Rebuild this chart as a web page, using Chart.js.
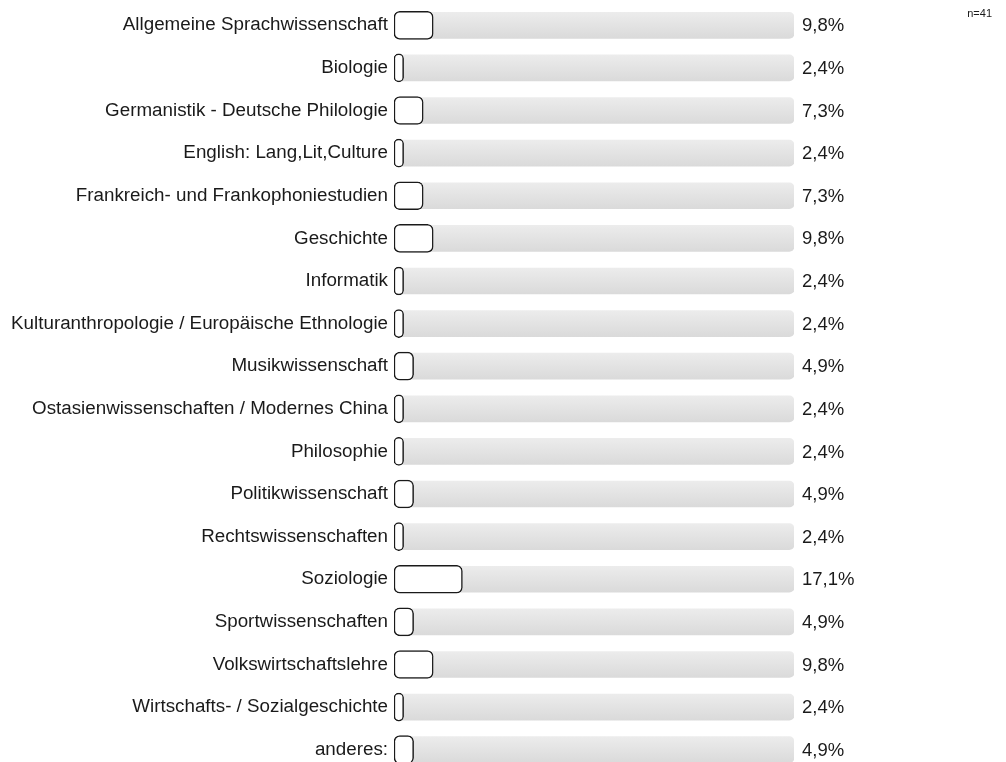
<!DOCTYPE html>
<html>
<head>
<meta charset="utf-8">
<script src="https://cdn.jsdelivr.net/npm/chart.js@4.4.0/dist/chart.umd.min.js"></script>
<style>
    html, body { margin: 0; padding: 0; background: #fff; overflow: hidden; }
    #wrap { width: 1006px; height: 772px; }
</style>
</head>
<body>
<div id="wrap"><canvas id="grafico"></canvas></div>
<script>
// --- dados ---
const categorias = [
    'Allgemeine Sprachwissenschaft',
    'Biologie',
    'Germanistik - Deutsche Philologie',
    'English: Lang,Lit,Culture',
    'Frankreich- und Frankophoniestudien',
    'Geschichte',
    'Informatik',
    'Kulturanthropologie / Europäische Ethnologie',
    'Musikwissenschaft',
    'Ostasienwissenschaften / Modernes China',
    'Philosophie',
    'Politikwissenschaft',
    'Rechtswissenschaften',
    'Soziologie',
    'Sportwissenschaften',
    'Volkswirtschaftslehre',
    'Wirtschafts- / Sozialgeschichte',
    'anderes:'
];
const percentuais = [9.8, 2.4, 7.3, 2.4, 7.3, 9.8, 2.4, 2.4, 4.9, 2.4, 2.4, 4.9, 2.4, 17.1, 4.9, 9.8, 2.4, 4.9];
const fundo = categorias.map(() => 100);
const totalN = 'n=41';

const fonte = '"Liberation Sans", Arial, sans-serif';

// rótulos de porcentagem + n
const pluginRotulos = {
    id: 'rotulos',
    afterDatasetsDraw(chart) {
        const ctx = chart.ctx;
        const x = chart.scales.x;
        const y = chart.scales.y;
        ctx.save();
        ctx.fillStyle = '#1a1a1a';
        ctx.font = '18.5px ' + fonte;
        ctx.textAlign = 'left';
        ctx.textBaseline = 'middle';
        percentuais.forEach((v, i) => {
            ctx.fillText(v.toFixed(1).replace('.', ',') + '%', x.getPixelForValue(100) + 8, y.getPixelForValue(i) + 1);
        });
        ctx.font = '11px ' + fonte;
        ctx.textAlign = 'right';
        ctx.textBaseline = 'alphabetic';
        ctx.fillText(totalN, 992, 17);
        ctx.restore();
    }
};

// gradiente do trilho cinza
function gradienteFundo(context) {
    const chart = context.chart;
    const escalaY = chart.scales.y;
    if (!escalaY || context.dataIndex === undefined) return '#e4e4e4';
    const y = escalaY.getPixelForValue(context.dataIndex);
    if (!isFinite(y)) return '#e4e4e4';
    const g = chart.ctx.createLinearGradient(0, y - 13, 0, y + 13);
    g.addColorStop(0, '#ececec');
    g.addColorStop(1, '#dadada');
    return g;
}

new Chart(document.getElementById('grafico').getContext('2d'), {
    type: 'bar',
    data: {
        labels: categorias,
        datasets: [
            {
                label: 'valor',
                data: percentuais,
                backgroundColor: '#ffffff',
                borderColor: '#1a1a1a',
                borderWidth: 1.5,
                borderRadius: 6,
                borderSkipped: false,
                barThickness: 28,
                grouped: false,
                order: 1
            },
            {
                label: 'fundo',
                data: fundo,
                backgroundColor: gradienteFundo,
                borderWidth: 0,
                borderRadius: 5,
                borderSkipped: false,
                barThickness: 26,
                grouped: false,
                order: 2
            }
        ]
    },
    options: {
        indexAxis: 'y',
        responsive: true,
        maintainAspectRatio: false,
        animation: false,
        layout: { padding: { top: 4, right: 212, bottom: 1, left: 0 } },
        scales: {
            x: { min: 0, max: 100, display: false },
            y: {
                grid: { display: false, drawTicks: false },
                border: { display: false },
                ticks: {
                    color: '#1a1a1a',
                    font: { family: fonte, size: 18.8 },
                    padding: 6,
                    autoSkip: false
                },
                afterFit(scale) {
                    scale.width = 394;
                    scale.paddingTop = 0;
                    scale.paddingBottom = 0;
                }
            }
        },
        plugins: {
            legend: { display: false },
            tooltip: { enabled: false }
        }
    },
    plugins: [pluginRotulos]
});
</script>
</body>
</html>
